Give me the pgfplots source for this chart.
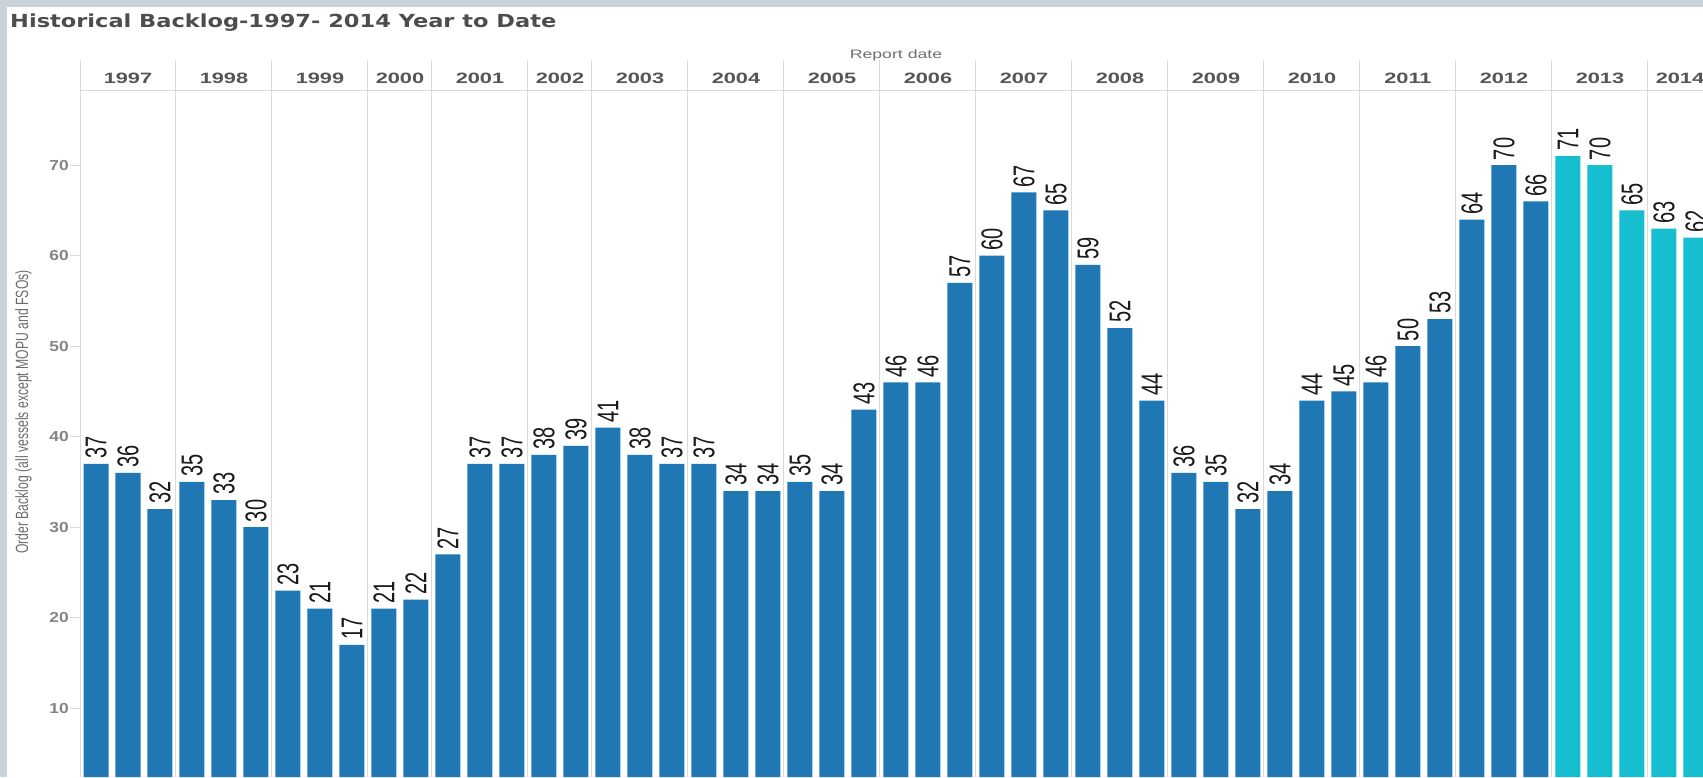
\documentclass[border=0pt]{standalone}
\usepackage{pgfplots}
\pgfplotsset{compat=1.18}
\usepackage{fontspec}
\setmainfont{Liberation Sans}
\newfontfamily\dejavu{DejaVu Sans}

\definecolor{barblue}{HTML}{1F77B4}
\definecolor{barcyan}{HTML}{17BECF}
\definecolor{bggray}{HTML}{C9D3DB}
\definecolor{sepgray}{HTML}{DADADA}
\definecolor{titlegray}{HTML}{4D4D4D}
\definecolor{yeargray}{HTML}{555555}
\definecolor{tickgray}{HTML}{858585}
\definecolor{labgray}{HTML}{6E6E6E}

% year header label: centre of the group, year
\newcommand\yr[2]{\node[anchor=base, inner sep=0pt, text=yeargray,
  font=\fontsize{15}{15}\selectfont\bfseries] at (axis cs:#1,79.06) {\scalebox{1.45}[1]{#2}};}

\begin{document}
\begin{tikzpicture}[x=1pt,y=1pt]
\fill[bggray] (0,0) rectangle (1703,777);
\fill[white] (7,0) rectangle (1703,770);
\begin{axis}[
  at={(80pt,0pt)}, anchor=south west,
  scale only axis, width=1623pt, height=686pt,
  xmin=0.5, xmax=51.22, ymin=2.4, ymax=78.2,
  clip=false,
  ybar, bar width=25pt,
  axis x line=none,
  axis y line*=left,
  y axis line style={draw=none},
  xtick=\empty,
  ytick={10,20,...,70},
  tick align=outside,
  major tick length=10pt,
  ytick style={draw=sepgray, line width=1pt},
  /pgf/number format/assume math mode=true,
  yticklabel style={font=\fontsize{14.5}{14.5}\selectfont\bfseries, text=tickgray,
    inner sep=0pt, anchor=east, xshift=-1pt},
  yticklabel={\scalebox{1.2}[1]{\pgfmathprintnumber{\tick}}},
  nodes near coords={\scalebox{1}[1.5]{\pgfmathprintnumber{\pgfplotspointmeta}}},
  every node near coord/.append style={rotate=90, anchor=west, inner xsep=5pt,
    inner ysep=0pt, font=\fontsize{20}{20}\selectfont, text=black!90},
]
% year separators
\pgfplotsinvokeforeach{0.5,3.5,6.5,9.5,11.5,14.5,16.5,19.5,22.5,25.5,28.5,31.5,34.5,37.5,40.5,43.5,46.5,49.5}{
  \draw[sepgray, line width=1pt] (axis cs:#1,2.4) -- (axis cs:#1,81.6);
}
\draw[sepgray, line width=1pt] (axis cs:0.5,78.2) -- (axis cs:51.22,78.2);

\addplot[fill=barblue, draw=none, bar shift=0pt] coordinates {
(1,37) (2,36) (3,32) (4,35) (5,33) (6,30) (7,23) (8,21) (9,17) (10,21)
(11,22) (12,27) (13,37) (14,37) (15,38) (16,39) (17,41) (18,38) (19,37) (20,37)
(21,34) (22,34) (23,35) (24,34) (25,43) (26,46) (27,46) (28,57) (29,60) (30,67)
(31,65) (32,59) (33,52) (34,44) (35,36) (36,35) (37,32) (38,34) (39,44) (40,45)
(41,46) (42,50) (43,53) (44,64) (45,70) (46,66)};
\addplot[fill=barcyan, draw=none, bar shift=0pt] coordinates {
(47,71) (48,70) (49,65) (50,63) (51,62)};

\node[anchor=base, inner sep=0pt, text=labgray, font=\fontsize{12.2}{12.2}\selectfont]
  at (axis cs:26,81.8) {\scalebox{1.45}[1]{Report date}};
\yr{2}{1997} \yr{5}{1998} \yr{8}{1999} \yr{10.5}{2000} \yr{13}{2001} \yr{15.5}{2002}
\yr{18}{2003} \yr{21}{2004} \yr{24}{2005} \yr{27}{2006} \yr{30}{2007} \yr{33}{2008}
\yr{36}{2009} \yr{39}{2010} \yr{42}{2011} \yr{45}{2012} \yr{48}{2013} \yr{50.5}{2014}
\end{axis}
\node[rotate=90, inner sep=0pt, text=labgray, font=\fontsize{12.2}{12.2}\selectfont]
  at (23.5,365) {\scalebox{1}[1.45]{Order Backlog (all vessels except MOPU and FSOs)}};
\node[anchor=base west, inner sep=0pt, text=titlegray, font=\dejavu\bfseries\fontsize{18}{18}\selectfont]
  at (10,749) {\scalebox{1.25}[1]{Historical Backlog-1997- 2014 Year to Date}};
\pgfresetboundingbox
\path[use as bounding box] (0,0) rectangle (1703,777);
\end{tikzpicture}
\end{document}
